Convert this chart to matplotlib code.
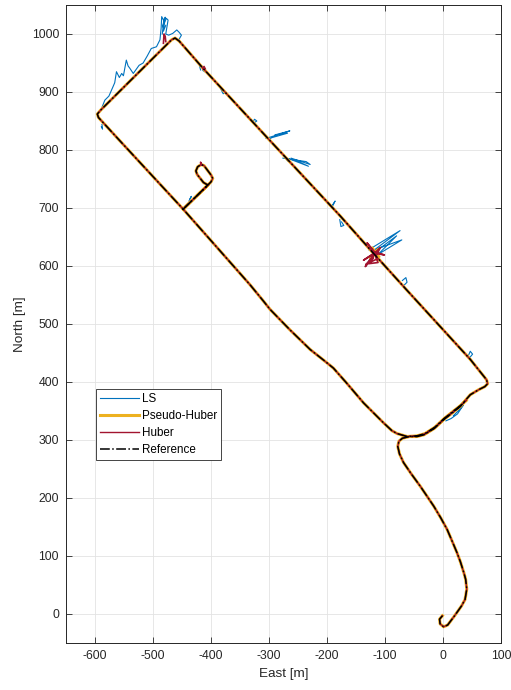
import matplotlib
matplotlib.use("Agg")
import matplotlib.pyplot as plt
import numpy as np

plt.rcParams['font.family'] = ['Liberation Sans', 'DejaVu Sans']
plt.rcParams['axes.unicode_minus'] = False

# reference route (east, north) in metres
route_e = [-1, -6, -5, 1, 8, 20, 32, 38, 41, 39, 36, 30, 24, 16, 7, -4, -16, -39, -55, -68,
           -75, -78, -76, -70, -58, -45, -33, -15, 1, 15, 30, 40, 47, 62, 72, 77, 75, 67, 59, 47,
           -62, -120, -177, -300, -413, -455, -462, -468,
           -590, -596, -594, -560, -448,
           -405, -400, -397, -400, -412, -417, -423, -426, -424, -413, -408, -405, -448,
           -333, -310, -298, -264, -229, -205, -189, -166, -137, -103, -88, -79, -62, -45, -31, -14,
           2, 17, 31, 40]
route_n = [-3, -9, -17, -22, -19, -3, 14, 25, 43, 60, 71, 90, 106, 125, 146, 166, 186, 220, 242, 261,
           276, 289, 298, 303, 306, 306, 309, 320, 335, 346, 358, 370, 378, 387, 392, 397, 404, 414, 424, 439,
           558, 622, 686, 818, 940, 988, 993, 990,
           869, 862, 856, 819, 698,
           740, 745, 751, 757, 773, 775, 771, 764, 758, 744, 741, 740, 698,
           568, 540, 525, 490, 456, 437, 424, 398, 364, 330, 316, 311, 306, 307, 311, 322,
           337, 349, 360, 368]

# least-squares outliers that leave the route
ls_spikes = [
    ([-592, -589, -583, -576, -569, -566, -563, -558, -554, -551, -546, -543, -540, -534, -524,
      -517, -510, -503, -494, -488, -486, -485, -480, -477, -474, -478, -473, -466, -459, -455,
      -451, -455],
     [866, 871, 886, 893, 909, 916, 935, 925, 932, 928, 955, 945, 941, 932, 946,
      950, 962, 975, 978, 990, 1010, 1030, 1020, 1027, 1024, 1000, 998, 1001, 1007, 1003,
      998, 991]),
    ([-484, -481, -483, -479, -482, -478], [1000, 1026, 1012, 1029, 1005, 1015]),
    ([-588, -587, -589], [844, 836, 840]),
    ([-418, -420, -412, -409, -414], [938, 946, 943, 934, 937]),
    ([-384, -379, -375, -380], [907, 897, 899, 903]),
    ([-330, -327, -321, -325, -328], [850, 846, 850, 853, 848]),
    ([-305, -270, -264, -290, -268, -296, -300], [820, 831, 833, 826, 829, 821, 817]),
    ([-276, -236, -229, -262, -232, -258, -272, -268], [786, 780, 775, 786, 772, 782, 787, 781]),
    ([-192, -186, -190], [700, 712, 706]),
    ([-178, -176, -171, -175], [680, 668, 670, 676]),
    ([-128, -74, -118, -71, -112, -80, -120, -134, -122], [628, 661, 628, 645, 620, 652, 622, 599, 612]),
    ([-70, -64, -62, -66, -69], [575, 580, 572, 568, 566]),
    ([44, 47, 51, 46, 43], [446, 453, 448, 442, 444]),
    ([5, 14, 25, 35, 28, 18], [333, 337, 345, 360, 352, 342]),
    ([-438, -434, -436], [712, 720, 716]),
]

# Huber deviations
huber_spikes = [
    ([-482, -481, -479, -478], [984, 1000, 996, 987]),
    ([-414, -412, -410], [940, 944, 940]),
    ([-118, -134, -116, -131, -118, -101, -116, -137, -118, -108, -116, -112, -128, -120, -133, -114],
     [622, 599, 622, 640, 622, 619, 624, 610, 622, 632, 616, 606, 604, 614, 603, 612]),
    ([-417, -418, -416], [774, 779, 775]),
]

# pseudo-Huber deviations
phuber_spikes = [
    ([-126, -112, -118, -122, -110], [614, 629, 622, 632, 616]),
]

c_ls = '#0072BD'
c_ph = '#EDB120'
c_hu = '#A2142F'
c_ref = 'black'

fig = plt.figure(figsize=(5.11, 6.90), dpi=100)
ax = fig.add_axes([66 / 511, 47 / 690, 435 / 511, 638 / 690])

ax.plot(route_e, route_n, color=c_ls, lw=0.8, label='LS')
for e, n in ls_spikes:
    ax.plot(e, n, color=c_ls, lw=0.8)

ax.plot(route_e, route_n, color=c_ph, lw=2.2, label='Pseudo-Huber')
for e, n in phuber_spikes:
    ax.plot(e, n, color=c_ph, lw=1.6)

ax.plot(route_e, route_n, color=c_hu, lw=1.0, label='Huber')
for e, n in huber_spikes:
    ax.plot(e, n, color=c_hu, lw=1.2)

ax.plot(route_e, route_n, color=c_ref, lw=1.1, ls='-.', label='Reference')

ax.set_xlim(-650, 100)
ax.set_ylim(-50, 1050)
ax.set_xticks(np.arange(-600, 101, 100))
ax.set_yticks(np.arange(0, 1001, 100))
ax.grid(True, color='#E3E3E3', lw=0.6)
ax.set_axisbelow(True)
ax.tick_params(direction='in', top=True, right=True, length=4, width=0.6,
               colors='#262626', labelsize=8.8, pad=5)
for s in ax.spines.values():
    s.set_color('#262626')
    s.set_linewidth(0.7)

ax.set_xlabel('East [m]', fontsize=9.7, color='#262626', labelpad=4)
ax.set_ylabel('North [m]', fontsize=9.7, color='#262626', labelpad=4)

leg = ax.legend(loc='upper left', bbox_to_anchor=(0.069, 0.398), borderaxespad=0,
                fontsize=8.4, handlelength=3.3, handletextpad=0.3, labelspacing=0.42,
                borderpad=0.35, fancybox=False, framealpha=1, edgecolor='#262626')
leg.get_frame().set_linewidth(0.6)

fig.savefig('out.png', dpi=100)
